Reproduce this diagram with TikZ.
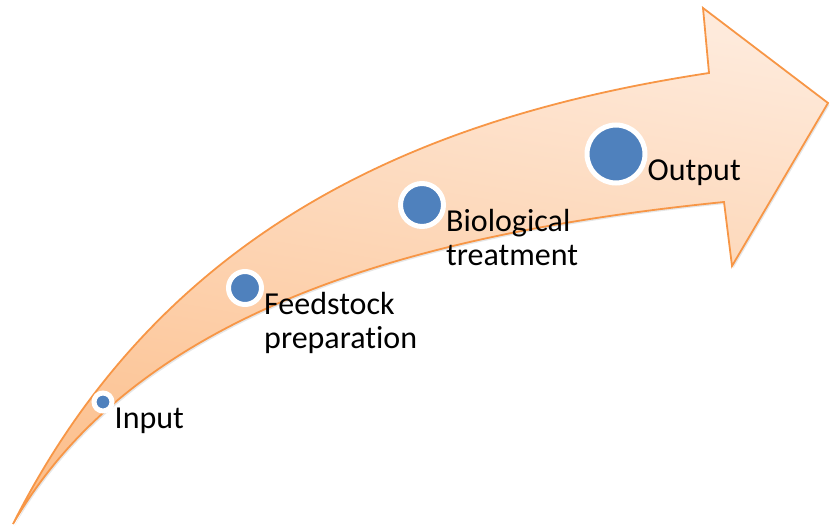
\documentclass[tikz,border=0pt]{standalone}
\usepackage{fontspec}
\setmainfont{Carlito}[Ligatures=NoCommon]
\usetikzlibrary{shadows}
\definecolor{arroworange}{HTML}{F79646}
\definecolor{arrowdark}{HTML}{FCBF8C}
\definecolor{arrowlight}{HTML}{FEEADB}
\definecolor{dotblue}{HTML}{4F81BD}
\tikzset{
  stepdot/.style={circle, fill=dotblue, draw=white, line width=5pt, inner sep=0pt},
  steplabel/.style={anchor=base west, inner sep=0pt, align=left, font=\fontsize{32}{34}\selectfont},
}
\begin{document}
\begin{tikzpicture}[x=1pt,y=-1pt]
  \useasboundingbox (0,0) rectangle (830,527);
  % 弯曲的大箭头
  \draw[arroworange, line width=1.8pt, line join=miter,
        top color=arrowlight, bottom color=arrowdark, shading angle=-10,
        drop shadow={shadow xshift=1.5pt, shadow yshift=-2pt, opacity=0.2}]
    (13,524) .. controls (166,221) and (432,115) .. (709,73) % 上边
    -- (703,8) -- (828,103) -- (732,266) -- (724,202) % 箭头
    .. controls (425,232) and (138,307) .. (13,524) -- cycle; % 下边
  % 圆点和文字 (\dy: 两行文字时往下挪一行)
  \foreach \n/\x/\y/\sz/\dy/\lbl in {input/103/402/18/0/Input,
                                     feed/245/288/33/34/{Feedstock\\preparation},
                                     bio/422/205/43/34/{Biological\\treatment},
                                     output/616/154/58/0/Output} {
      \node[stepdot, minimum size=\sz pt] (dot-\n) at (\x,\y) {};
      \node[steplabel] (lbl-\n) at ({\x+\sz/2+2.5},{\y+26+\dy}) {\lbl};
  }
\end{tikzpicture}
\end{document}
